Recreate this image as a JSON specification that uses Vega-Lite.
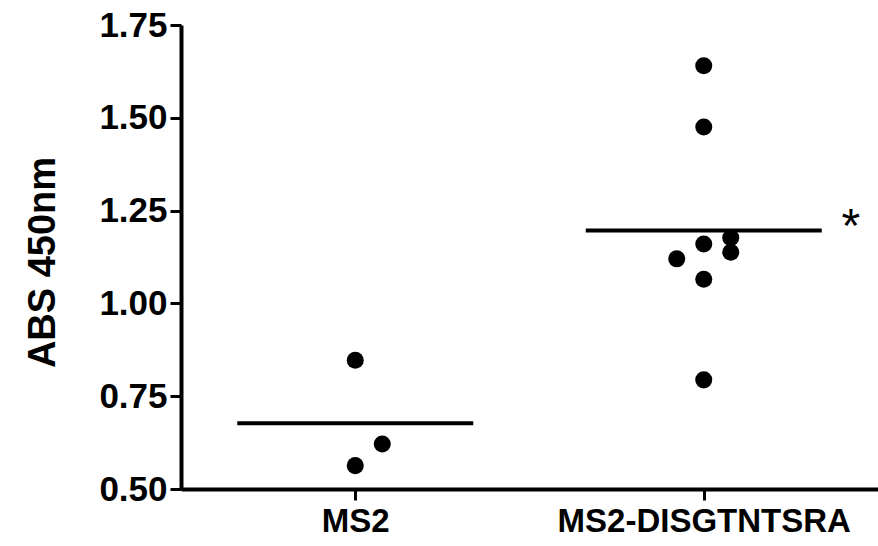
{
  "$schema": "https://vega.github.io/schema/vega-lite/v6.json",
  "width": 697,
  "height": 464,
  "autosize": {"type": "none"},
  "padding": {"left": 181, "top": 25, "right": 0, "bottom": 57},
  "background": "white",
  "config": {
    "view": {"stroke": null},
    "font": "Liberation Sans",
    "axis": {
      "grid": false,
      "domainColor": "black",
      "domainWidth": 4,
      "tickColor": "black",
      "tickWidth": 3,
      "tickSize": 11,
      "labelColor": "black",
      "labelFont": "Liberation Sans",
      "labelFontWeight": "bold",
      "labelLimit": 0,
      "titleColor": "black",
      "titleFont": "Liberation Sans"
    }
  },
  "datasets": {
    "points": [
      {"group": "MS2", "value": 0.847, "jitter": 0},
      {"group": "MS2", "value": 0.621, "jitter": 1},
      {"group": "MS2", "value": 0.563, "jitter": 0},
      {"group": "MS2-DISGTNTSRA", "value": 1.640, "jitter": 0},
      {"group": "MS2-DISGTNTSRA", "value": 1.475, "jitter": 0},
      {"group": "MS2-DISGTNTSRA", "value": 1.160, "jitter": 0},
      {"group": "MS2-DISGTNTSRA", "value": 1.177, "jitter": 1},
      {"group": "MS2-DISGTNTSRA", "value": 1.138, "jitter": 1},
      {"group": "MS2-DISGTNTSRA", "value": 1.120, "jitter": -1},
      {"group": "MS2-DISGTNTSRA", "value": 1.065, "jitter": 0},
      {"group": "MS2-DISGTNTSRA", "value": 0.794, "jitter": 0}
    ],
    "annotations": [
      {"group": "MS2-DISGTNTSRA", "value": 1.198, "label": "*"}
    ]
  },
  "layer": [
    {
      "data": {"name": "points"},
      "mark": {"type": "circle", "size": 290, "color": "black", "opacity": 1},
      "encoding": {
        "x": {
          "field": "group", "type": "nominal",
          "scale": {"type": "point", "padding": 0.5, "domain": ["MS2", "MS2-DISGTNTSRA"]},
          "axis": {"title": null, "labelAngle": 0, "labelPadding": 5, "labelFontSize": 33, "orient": "bottom"}
        },
        "xOffset": {
          "field": "jitter", "type": "quantitative",
          "scale": {"domain": [-1, 1], "range": [-27, 27]}
        },
        "y": {
          "field": "value", "type": "quantitative",
          "scale": {"domain": [0.5, 1.75], "nice": false, "zero": false},
          "axis": {
            "values": [0.5, 0.75, 1.0, 1.25, 1.5, 1.75],
            "format": ".2f",
            "labelFontSize": 35,
            "labelPadding": 3,
            "title": "ABS 450nm",
            "titleFontSize": 38,
            "titleFontWeight": "bold",
            "titleAngle": -90,
            "titleAlign": "center",
            "titleBaseline": "middle",
            "titleX": -138,
            "titleY": 237
          }
        }
      }
    },
    {
      "data": {"name": "points"},
      "mark": {"type": "tick", "orient": "horizontal", "size": 236, "thickness": 4, "color": "black", "opacity": 1},
      "encoding": {
        "x": {"field": "group", "type": "nominal"},
        "y": {"aggregate": "mean", "field": "value", "type": "quantitative"}
      }
    },
    {
      "data": {"name": "annotations"},
      "mark": {"type": "text", "fontSize": 48, "fontWeight": "normal", "color": "black", "align": "center", "baseline": "alphabetic", "dx": 147, "dy": 12},
      "encoding": {
        "x": {"field": "group", "type": "nominal"},
        "y": {"field": "value", "type": "quantitative"},
        "text": {"field": "label"}
      }
    }
  ]
}
